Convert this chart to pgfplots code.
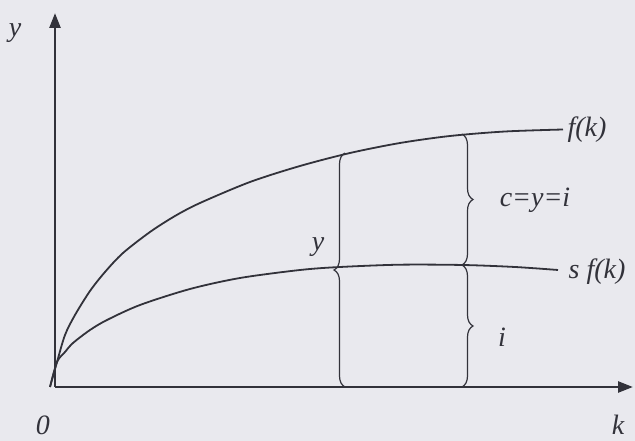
\documentclass[border=0pt]{standalone}
\usepackage{fontspec}
\setmainfont{Liberation Serif}
\usepackage{pgfplots}
\pgfplotsset{compat=1.18}
\usetikzlibrary{arrows.meta, decorations.pathreplacing}
\definecolor{paper}{RGB}{233,233,238}
\definecolor{ink}{RGB}{50,50,58}
\tikzset{lab/.style={font=\fontsize{28}{30}\selectfont\itshape, text=ink, inner sep=0pt}}

\begin{document}
\begin{tikzpicture}
% scanned page background, 635 x 441
\fill[paper] (-55pt,-54pt) rectangle (580pt,387pt);
\begin{axis}[
    x=1pt, y=1pt,
    anchor=origin, at={(0,0)},
    xmin=0, xmax=578,
    ymin=0, ymax=374,
    axis lines=left,
    axis line style={ink, line width=2.6pt, -{Triangle[length=15pt,width=11pt]}},
    ticks=none,
    clip=false,
]

%% f(k)
\addplot[ink, line width=1.8pt, smooth, tension=0.5] coordinates {
    (-5,0)(2,25)(10,52)(20,72)(35,96)(50,115)(68,134)(95,155)
    (120,171)(145,184)(195,205)(245,221)(295,234)(345,244)
    (395,251)(450,255.5)(508,257.5)
};

%% s f(k)
\addplot[ink, line width=1.8pt, smooth, tension=0.5] coordinates {
    (-5,0)(2,25)(10,35)(18,44)(35,57)(52,67)(85,82)(135,98)
    (185,109)(245,117)(285,120)(345,122.3)(408,122)(460,120)(503,117)
};

%% braces
\draw[ink, line width=1.2pt, decorate, decoration={brace, amplitude=11pt}]
    (axis cs:290,0) -- (axis cs:290,234);
\draw[ink, line width=1.2pt, decorate, decoration={brace, amplitude=11pt}]
    (axis cs:407,253) -- (axis cs:407,122);
\draw[ink, line width=1.2pt, decorate, decoration={brace, amplitude=11pt}]
    (axis cs:407,122) -- (axis cs:407,0);

%% labels
\node[lab] at (axis cs:-40,354) {y};
\node[lab] at (axis cs:-12,-38) {0};
\node[lab] at (axis cs:563,-38) {k};
\node[lab] at (axis cs:263,140) {y};
\node[lab] at (axis cs:532,257) {f(k)};
\node[lab] at (axis cs:542,115) {s f(k)};
\node[lab] at (axis cs:480,187) {c=y=i};
\node[lab] at (axis cs:447,50) {i};

\end{axis}
\end{tikzpicture}
\end{document}
